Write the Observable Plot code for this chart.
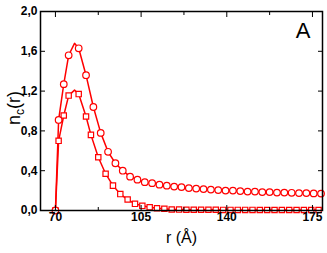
<!DOCTYPE html>
<html>
<head>
<meta charset="utf-8">
<script src="https://cdn.jsdelivr.net/npm/d3@7"></script>
<script src="https://cdn.jsdelivr.net/npm/@observablehq/plot@0.6"></script>
<style>
  html, body { margin: 0; padding: 0; background: #fff; }
  #chart { width: 327px; height: 253px; }
</style>
</head>
<body>
<div id="chart"></div>
<script>
// Circles series (r in Å, n_c(r))
const circR = [70, 71.3, 73.4, 75.4, 77.8, 79.5, 82.5, 85.5, 88.5, 91.5, 94.5, 97.5, 100.5, 103.5, 106.5, 109.5, 112.5, 115.5, 118.5, 121.5, 124.5, 127.5, 130.5, 133.5, 136.5, 139.5, 142.5, 145.5, 148.5, 151.5, 154.5, 157.5, 160.5, 163.5, 166.5, 169.5, 172.5, 175.5, 178.5];
const circN = [0, 0.91, 1.27, 1.56, 1.68, 1.63, 1.36, 1.04, 0.78, 0.59, 0.475, 0.40, 0.34, 0.31, 0.285, 0.275, 0.26, 0.25, 0.24, 0.235, 0.225, 0.22, 0.215, 0.21, 0.205, 0.2, 0.2, 0.195, 0.19, 0.19, 0.185, 0.185, 0.18, 0.18, 0.178, 0.175, 0.175, 0.172, 0.17];
// Squares series
const sqR = [70, 71.3, 73.4, 75.4, 77.8, 79.5, 82.5, 84.5, 87.5, 90.5, 93.5, 96.5, 99.5, 102.5, 105.5, 108.5, 111.5, 114.5, 117.5, 120.5, 123.5, 126.5, 129.5, 132.5, 135.5, 138.5, 141.5, 144.5, 147.5, 150.5, 153.5, 156.5, 159.5, 162.5, 165.5, 168.5, 171.5, 174.5, 177.5];
const sqN = [0, 0.70, 0.955, 1.155, 1.21, 1.17, 0.945, 0.76, 0.535, 0.37, 0.25, 0.165, 0.11, 0.067, 0.047, 0.033, 0.023, 0.017, 0.01, 0.009, 0.008, 0.008, 0.007, 0.007, 0.007, 0.006, 0.006, 0.006, 0.006, 0.006, 0.005, 0.005, 0.005, 0.005, 0.005, 0.005, 0.005, 0.005, 0.005];
// the curve apex is a line vertex without a marker
const peakIndex = 4;

const xMajor = [70, 105, 140, 175];
const xMinor = [87.5, 122.5, 157.5];
const yMajor = [0, 0.4, 0.8, 1.2, 1.6, 2.0];
const panelLabel = "A";

const circles = circR.map((r, i) => ({r, n: circN[i], marked: i !== peakIndex}));
const squares = sqR.map((r, i) => ({r, n: sqN[i], marked: i !== peakIndex}));

const red = "#ff0000";
const fmt = d => d.toFixed(1).replace(".", ",");

const chart = Plot.plot({
  width: 327,
  height: 253,
  marginLeft: 40,
  marginRight: 5,
  marginTop: 11,
  marginBottom: 43,
  style: {fontFamily: "'Liberation Sans', Arial, sans-serif", background: "#fff", color: "#000"},
  x: {domain: [63.9, 179.1]},
  y: {domain: [0, 2]},
  marks: [
    Plot.line(squares, {x: "r", y: "n", stroke: red, strokeWidth: 1.5}),
    Plot.line(circles, {x: "r", y: "n", stroke: red, strokeWidth: 1.5}),
    Plot.dot(squares.filter(d => d.marked), {x: "r", y: "n", symbol: "square", r: 3, stroke: red, strokeWidth: 1.2, fill: "#fff"}),
    Plot.dot(circles.filter(d => d.marked), {x: "r", y: "n", symbol: "circle", r: 3.3, stroke: red, strokeWidth: 1.2, fill: "#fff"}),
    // inward ticks
    Plot.axisX(xMajor, {anchor: "bottom", tickSize: -5, fill: "none", tickFormat: () => "", label: null}),
    Plot.axisX(xMinor, {anchor: "bottom", tickSize: -3, fill: "none", tickFormat: () => "", label: null}),
    Plot.axisX(xMajor, {anchor: "top", tickSize: -5, fill: "none", tickFormat: () => "", label: null}),
    Plot.axisX(xMinor, {anchor: "top", tickSize: -3, fill: "none", tickFormat: () => "", label: null}),
    Plot.axisY(yMajor, {anchor: "left", tickSize: -5, fill: "none", tickFormat: () => "", label: null}),
    Plot.axisY(yMajor, {anchor: "right", tickSize: -5, fill: "none", tickFormat: () => "", label: null}),
    // tick labels
    Plot.axisX(xMajor, {anchor: "bottom", tickSize: 0, tickPadding: 2, tickFormat: d => String(d), fontWeight: "bold", fontSize: 12, label: null}),
    Plot.axisY(yMajor, {anchor: "left", tickSize: 0, tickPadding: 3, tickFormat: fmt, fontWeight: "bold", fontSize: 12, label: null}),
    Plot.frame({stroke: "#000", strokeWidth: 1.5}),
    Plot.text(["r (Å)"], {frameAnchor: "bottom", dy: 27, lineAnchor: "middle", fontSize: 16}),
    Plot.text([panelLabel], {frameAnchor: "top-right", dx: -19.5, dy: 19.5, textAnchor: "middle", lineAnchor: "middle", fontSize: 22})
  ]
});

document.getElementById("chart").appendChild(chart);

// y-axis title with subscript
const svg = d3.select(chart);
const yl = svg.append("text")
  .attr("transform", "translate(20,108) rotate(-90)")
  .attr("text-anchor", "middle")
  .attr("font-size", 18)
  .attr("fill", "#000")
  .attr("font-family", "'Liberation Sans', Arial, sans-serif");
yl.append("tspan").text("n");
yl.append("tspan").attr("font-size", 12).attr("dy", 4).text("c");
yl.append("tspan").attr("dy", -4).text("(r)");
</script>
</body>
</html>
